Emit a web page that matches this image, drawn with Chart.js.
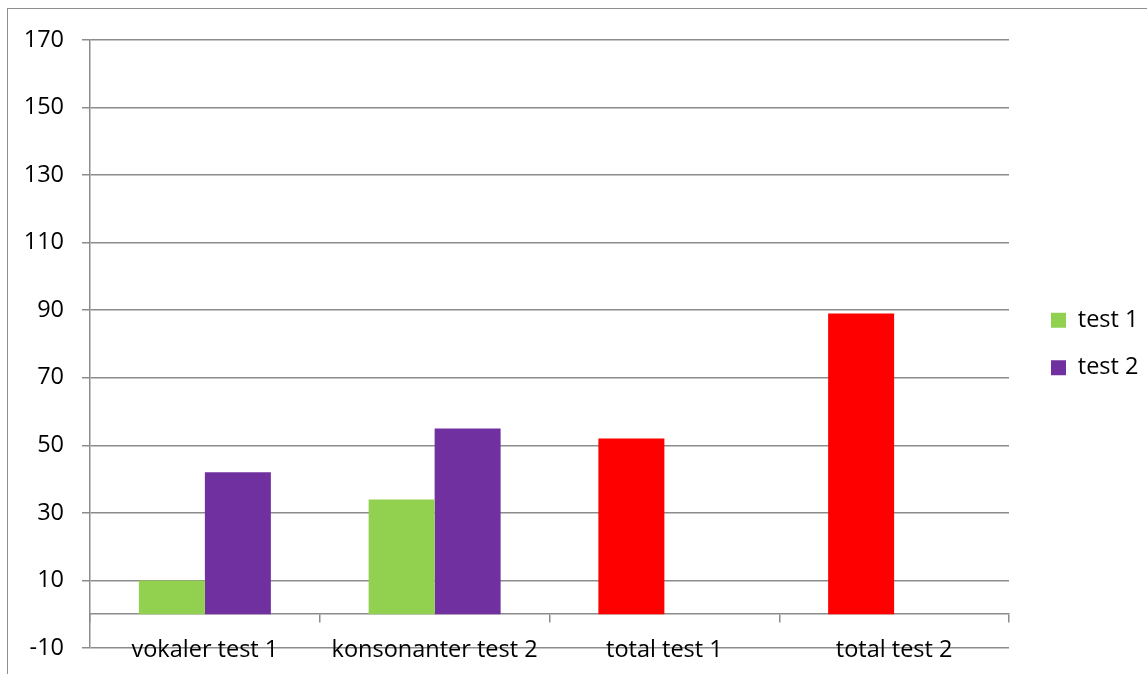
<!DOCTYPE html>
<html>
<head>
<meta charset="utf-8">
<script src="https://cdn.jsdelivr.net/npm/chart.js@4/dist/chart.umd.min.js"></script>
<style>
  html, body { margin: 0; padding: 0; background: #ffffff; overflow: hidden; }
  #wrap { position: relative; width: 1147px; height: 674px; }
  #frame {
    position: absolute; left: 7px; top: 8px; width: 1400px; height: 900px;
    border-left: 1.5px solid #8e8e8e; border-top: 1.5px solid #8e8e8e;
    pointer-events: none;
  }
  canvas { position: absolute; left: 0; top: 0; }
</style>
</head>
<body>
<div id="wrap">
  <canvas id="chart" width="1147" height="674"></canvas>
  <div id="frame"></div>
</div>
<script>
// Categories and series
const categories = ['vokaler test 1', 'konsonanter test 2', 'total test 1', 'total test 2'];
const test1Values = [10, 34, 52, 89];
const test2Values = [42, 55, null, null];
const test1Colors = ['#92d050', '#92d050', '#ff0000', '#ff0000'];
const test2Color = '#7030a0';
const seriesNames = ['test 1', 'test 2'];

// Value axis range
const yMin = -10;
const yMax = 170;
const yStep = 20;

const gridColor = '#8c8c8c';
const fontFamily = '"Open Sans", "Noto Sans", sans-serif';
const fontSize = 23.5;

// Gives the right-hand legend a fixed column width and offsets its items
const legendPlacement = {
  id: 'legendPlacement',
  beforeLayout(chart, args, opts) {
    const lg = chart.legend;
    if (!lg || lg._fixedFit) return;
    const baseFit = lg.fit.bind(lg);
    lg.fit = function () {
      baseFit();
      this.width = opts.width;
    };
    lg._fixedFit = true;
  },
  afterLayout(chart, args, opts) {
    const lg = chart.legend;
    if (!lg) return;
    lg.left += opts.dx;
    lg.right += opts.dx;
    lg.top += opts.dy;
    lg.bottom += opts.dy;
  }
};

new Chart(document.getElementById('chart'), {
  type: 'bar',
  data: {
    labels: categories,
    datasets: [
      {
        label: seriesNames[0],
        data: test1Values,
        backgroundColor: ctx => ctx.type === 'data' ? test1Colors[ctx.dataIndex] : test1Colors[0],
        borderWidth: 0
      },
      {
        label: seriesNames[1],
        data: test2Values,
        backgroundColor: test2Color,
        borderWidth: 0
      }
    ]
  },
  plugins: [legendPlacement],
  options: {
    responsive: false,
    animation: false,
    devicePixelRatio: 1,
    layout: { padding: { left: 0, top: 40, right: 0, bottom: 26 } },
    datasets: {
      bar: { categoryPercentage: 0.5745, barPercentage: 1.0 }
    },
    scales: {
      x: {
        type: 'category',
        position: { y: 0 },
        // the category axis sits on the zero line inside the plot, so it takes no layout room
        afterFit: s => { s.height = 0; },
        grid: {
          drawOnChartArea: false,
          drawTicks: true,
          tickLength: 8,
          offset: true,
          color: gridColor,
          lineWidth: 1.5
        },
        border: { display: true, color: gridColor, width: 1.5 },
        ticks: {
          color: '#000000',
          padding: 14,
          maxRotation: 0,
          autoSkip: false,
          font: { family: fontFamily, size: fontSize }
        }
      },
      y: {
        min: yMin,
        max: yMax,
        // fixed axis width; outer spacing comes from the layout padding alone
        afterFit: s => { s.width = 90; s.paddingTop = 0; s.paddingBottom = 0; },
        grid: {
          color: gridColor,
          lineWidth: 1.5,
          drawTicks: true,
          tickLength: 8
        },
        border: { display: true, color: gridColor, width: 1.5 },
        ticks: {
          stepSize: yStep,
          color: '#000000',
          padding: 18,
          font: { family: fontFamily, size: fontSize }
        }
      }
    },
    plugins: {
      legend: {
        position: 'right',
        align: 'center',
        labels: {
          boxWidth: 15,
          boxHeight: 15,
          padding: 24,
          color: '#000000',
          font: { family: fontFamily, size: fontSize }
        }
      },
      legendPlacement: { width: 138, dx: 18, dy: 0 },
      tooltip: { enabled: false }
    }
  }
});
</script>
</body>
</html>
